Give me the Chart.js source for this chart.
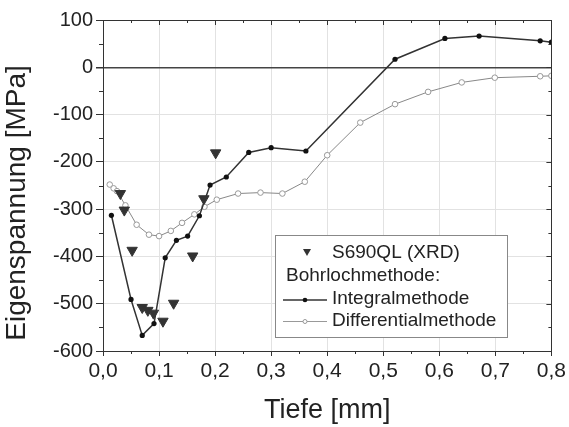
<!DOCTYPE html>
<html>
<head>
<meta charset="utf-8">
<script src="https://cdn.jsdelivr.net/npm/chart.js@4.4.1/dist/chart.umd.min.js"></script>
<style>
  html, body { margin: 0; padding: 0; background: #fff; }
  #c { display: block; }
</style>
</head>
<body>
<canvas id="c" width="569" height="427"></canvas>
<script>
// Depth [mm] and residual stress [MPa]
const xrdDepth  = [0.031, 0.038, 0.052, 0.070, 0.080, 0.090, 0.107, 0.126, 0.160, 0.180, 0.201];
const xrdStress = [-267, -302, -387, -508, -514, -520, -537, -499, -399, -278, -181];

const integralDepth  = [0.015, 0.050, 0.070, 0.091, 0.111, 0.131, 0.151, 0.172, 0.191, 0.220, 0.260, 0.300, 0.362, 0.521, 0.610, 0.671, 0.780, 0.800];
const integralStress = [-313, -491, -567, -542, -403, -366, -357, -314, -249, -232, -180, -170, -177, 17, 61, 66, 56, 53];

const diffDepth  = [0.012, 0.019, 0.025, 0.040, 0.060, 0.082, 0.100, 0.121, 0.141, 0.163, 0.181, 0.203, 0.241, 0.281, 0.320, 0.360, 0.400, 0.459, 0.521, 0.580, 0.640, 0.699, 0.780, 0.800];
const diffStress = [-248, -256, -262, -292, -333, -354, -357, -346, -329, -311, -295, -280, -267, -265, -267, -242, -186, -117, -78, -52, -32, -22, -19, -18];

const xTicks = [0, 0.1, 0.2, 0.3, 0.4, 0.5, 0.6, 0.7, 0.8];
const yTicks = [100, 0, -100, -200, -300, -400, -500, -600];

const xTitle = 'Tiefe [mm]';
const yTitle = 'Eigenspannung [MPa]';
const legendLabels = ['S690QL (XRD)', 'Bohrlochmethode:', 'Integralmethode', 'Differentialmethode'];

const FONT = "Arial, 'Liberation Sans', sans-serif";
const pts = (xs, ys) => xs.map((x, i) => ({ x, y: ys[i] }));

// Box frame with minor ticks on all four sides, plus the vertical axis title
const framePlugin = {
  id: 'frame',
  afterDraw(chart) {
    const { ctx, chartArea: a, scales: { x, y } } = chart;
    ctx.save();
    ctx.strokeStyle = '#333';
    ctx.lineWidth = 1;
    ctx.strokeRect(Math.round(a.left) + 0.5, Math.round(a.top) + 0.5,
                   Math.round(a.right - a.left), Math.round(a.bottom - a.top));
    ctx.beginPath();
    for (let v = 0; v <= 0.8001; v += 0.05) {
      const px = Math.round(x.getPixelForValue(v)) + 0.5;
      const major = Math.abs(v * 10 - Math.round(v * 10)) < 1e-6;
      const len = major ? 5 : 3;
      ctx.moveTo(px, a.top); ctx.lineTo(px, a.top + len);
      if (!major) { ctx.moveTo(px, a.bottom); ctx.lineTo(px, a.bottom + 3); }
    }
    for (let v = -600; v <= 100; v += 50) {
      const py = Math.round(y.getPixelForValue(v)) + 0.5;
      const major = v % 100 === 0;
      const len = major ? 5 : 3;
      ctx.moveTo(a.right, py); ctx.lineTo(a.right - len, py);
      if (!major) { ctx.moveTo(a.left, py); ctx.lineTo(a.left - 4, py); }
    }
    ctx.stroke();

    ctx.translate(17, 203);
    ctx.rotate(-Math.PI / 2);
    ctx.font = '28px ' + FONT;
    ctx.fillStyle = '#222';
    ctx.textAlign = 'center';
    ctx.textBaseline = 'middle';
    ctx.fillText(yTitle, 0, 0);
    ctx.restore();
  }
};

// Legend box inside the plot
const legendPlugin = {
  id: 'boxLegend',
  afterDatasetsDraw(chart) {
    const { ctx } = chart;
    const bx = 275, by = 235, bw = 232, bh = 102;
    ctx.save();
    ctx.fillStyle = '#fff';
    ctx.fillRect(bx, by, bw, bh);
    ctx.strokeStyle = '#888';
    ctx.lineWidth = 1;
    ctx.strokeRect(bx + 0.5, by + 0.5, bw, bh);

    ctx.font = '19px ' + FONT;
    ctx.textBaseline = 'middle';

    // XRD marker
    ctx.fillStyle = '#333';
    ctx.beginPath();
    ctx.moveTo(303, 249); ctx.lineTo(311, 249); ctx.lineTo(307, 256); ctx.closePath();
    ctx.fill();
    ctx.fillStyle = '#222';
    ctx.fillText(legendLabels[0], 332, 253);
    ctx.fillText(legendLabels[1], 286, 276);

    // Integral sample
    ctx.strokeStyle = '#333'; ctx.lineWidth = 1.5;
    ctx.beginPath(); ctx.moveTo(283, 300); ctx.lineTo(327, 300); ctx.stroke();
    ctx.fillStyle = '#111';
    ctx.beginPath(); ctx.arc(305, 300, 2.3, 0, Math.PI * 2); ctx.fill();
    ctx.fillStyle = '#222';
    ctx.fillText(legendLabels[2], 332, 299);

    // Differential sample
    ctx.strokeStyle = '#999'; ctx.lineWidth = 1;
    ctx.beginPath(); ctx.moveTo(283, 321.5); ctx.lineTo(327, 321.5); ctx.stroke();
    ctx.fillStyle = '#fff'; ctx.strokeStyle = '#999';
    ctx.beginPath(); ctx.arc(305, 321.5, 2, 0, Math.PI * 2); ctx.fill(); ctx.stroke();
    ctx.fillStyle = '#222';
    ctx.fillText(legendLabels[3], 332, 321);
    ctx.restore();
  }
};

new Chart(document.getElementById('c'), {
  type: 'scatter',
  data: {
    datasets: [
      {
        label: 'Differentialmethode',
        data: pts(diffDepth, diffStress),
        showLine: true,
        borderColor: '#888',
        borderWidth: 1,
        pointRadius: 2.8,
        pointBackgroundColor: '#fff',
        pointBorderColor: '#999',
        pointBorderWidth: 1,
        order: 3
      },
      {
        label: 'Integralmethode',
        data: pts(integralDepth, integralStress),
        showLine: true,
        borderColor: '#333',
        borderWidth: 1.5,
        pointRadius: 2.6,
        pointBackgroundColor: '#111',
        pointBorderColor: '#111',
        pointBorderWidth: 0,
        order: 2
      },
      {
        label: 'S690QL (XRD)',
        data: pts(xrdDepth, xrdStress),
        showLine: false,
        pointStyle: 'triangle',
        rotation: 180,
        pointRadius: 6,
        pointBackgroundColor: '#333',
        pointBorderColor: '#333',
        pointBorderWidth: 1,
        order: 1
      }
    ]
  },
  options: {
    responsive: false,
    animation: false,
    devicePixelRatio: 1,
    layout: { padding: { left: 0, top: 20, right: 17, bottom: 0 } },
    plugins: { legend: { display: false }, tooltip: { enabled: false } },
    scales: {
      x: {
        type: 'linear',
        min: 0, max: 0.8,
        afterFit(s) { s.height = 76; },
        afterBuildTicks(s) { s.ticks = xTicks.map(v => ({ value: v })); },
        ticks: {
          callback: v => v.toFixed(1).replace('.', ','),
          font: { family: FONT, size: 21 },
          color: '#222',
          padding: 3,
          maxRotation: 0
        },
        grid: {
          color: '#e2e2e2',
          tickColor: '#333',
          tickLength: 5,
          drawTicks: true
        },
        border: { display: true, color: '#333', width: 1 },
        title: {
          display: true,
          text: xTitle,
          font: { family: FONT, size: 27 },
          color: '#222',
          padding: { top: 8, bottom: 0 }
        }
      },
      y: {
        type: 'linear',
        min: -600, max: 100,
        afterFit(s) { s.width = 103; },
        afterBuildTicks(s) { s.ticks = yTicks.map(v => ({ value: v })); },
        ticks: {
          font: { family: FONT, size: 20 },
          color: '#222',
          padding: 3
        },
        grid: {
          color: c => (c.tick && c.tick.value === 0) ? '#444' : '#e2e2e2',
          lineWidth: c => (c.tick && c.tick.value === 0) ? 1.5 : 1,
          tickColor: '#333',
          tickLength: 7
        },
        border: { display: true, color: '#333', width: 1 },
        title: { display: false }
      }
    }
  },
  plugins: [framePlugin, legendPlugin]
});
</script>
</body>
</html>
